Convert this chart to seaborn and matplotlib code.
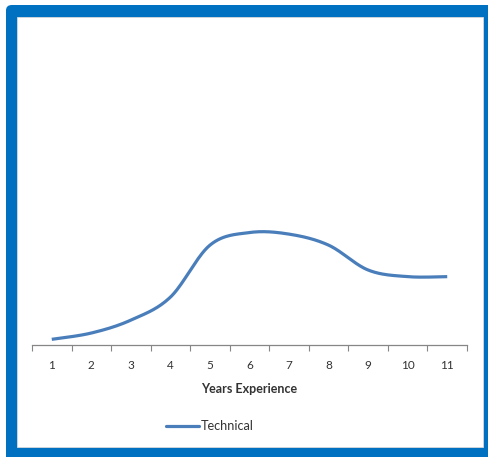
import numpy as np
import pandas as pd
import matplotlib
matplotlib.use("Agg")
import matplotlib.pyplot as plt
from matplotlib.patches import FancyBboxPatch, Rectangle
from matplotlib.lines import Line2D
import seaborn as sns

# Chart data
years = [1, 2, 3, 4, 5, 6, 7, 8, 9, 10, 11]
technical = [0.18, 0.38, 0.79, 1.52, 3.17, 3.57, 3.52, 3.17, 2.38, 2.17, 2.17]
series_name = "Technical"
x_title = "Years Experience"

sns.set_theme(style="white")
plt.rcParams["font.family"] = ["Lato", "DejaVu Sans"]

W, H = 488, 457
fig = plt.figure(figsize=(W / 100, H / 100), dpi=100)
fig.patch.set_facecolor("white")

# Blue frame around the chart area
blue = "#0070C0"
fig.patches.append(FancyBboxPatch((6 / W, -0.1), 1.2, (452 / H) + 0.1,
                                  boxstyle="round,pad=0,rounding_size=0.012",
                                  transform=fig.transFigure, facecolor=blue,
                                  edgecolor="none", zorder=0))
fig.patches.append(Rectangle((17 / W, 10.5 / H), (483 - 17) / W, (440.5 - 10.5) / H,
                             transform=fig.transFigure, facecolor="white",
                             edgecolor="#d9d9d9", linewidth=0.6, zorder=1))

ax = fig.add_axes([32 / W, 112 / H, (467 - 32) / W, (427 - 112) / H])
ax.set_facecolor("none")
ax.set_zorder(2)


def smooth(xv, yv, n=30):
    """Catmull-Rom style smoothing, like a spreadsheet's smoothed line."""
    xv = np.asarray(xv, float)
    yv = np.asarray(yv, float)
    px = np.concatenate([[xv[0]], xv, [xv[-1]]])
    py = np.concatenate([[yv[0]], yv, [yv[-1]]])
    out_x, out_y = [], []
    for i in range(1, len(px) - 2):
        p0 = np.array([px[i - 1], py[i - 1]])
        p1 = np.array([px[i], py[i]])
        p2 = np.array([px[i + 1], py[i + 1]])
        p3 = np.array([px[i + 2], py[i + 2]])
        c1 = p1 + (p2 - p0) / 6
        c2 = p2 - (p3 - p1) / 6
        t = np.linspace(0, 1, n, endpoint=(i == len(px) - 3))[:, None]
        pts = ((1 - t) ** 3) * p1 + 3 * ((1 - t) ** 2) * t * c1 + 3 * (1 - t) * t ** 2 * c2 + t ** 3 * p2
        out_x.extend(pts[:, 0])
        out_y.extend(pts[:, 1])
    return np.array(out_x), np.array(out_y)


line_color = "#4A7EBB"
sx, sy = smooth(years, technical)
curve = pd.DataFrame({"x": sx, "y": sy, "series": series_name})
sns.lineplot(data=curve, x="x", y="y", hue="series", palette=[line_color],
             sort=False, estimator=None, linewidth=2.3, ax=ax, legend=False,
             solid_capstyle="butt")

ax.set_xlim(0.5, 11.5)
ax.set_ylim(0, 10)
ax.set_yticks([])
for side in ["top", "right", "left"]:
    ax.spines[side].set_visible(False)
ax.spines["bottom"].set_color("#868686")
ax.spines["bottom"].set_linewidth(0.9)

text_color = "#333333"

# Tick marks between categories, labels centred on each category
ax.set_xticks(np.arange(0.5, 12, 1))
ax.set_xticklabels([])
ax.tick_params(axis="x", which="major", direction="out", length=4.3,
               width=0.8, color="#868686", bottom=True)
ax.set_xticks(years, minor=True)
ax.set_xticklabels([str(y) for y in years], minor=True)
ax.tick_params(axis="x", which="minor", length=0, pad=10.5, labelsize=8.5,
               labelcolor=text_color)

ax.set_xlabel(x_title, fontsize=9, fontweight="bold", color=text_color, labelpad=9)
ax.set_ylabel("")

handle = Line2D([], [], color=line_color, linewidth=2.3)
fig.legend([handle], [series_name], loc="center", bbox_to_anchor=(210 / W, 1 - 426 / H),
           frameon=False, fontsize=9.2, handlelength=2.6, handletextpad=0.15,
           labelcolor=text_color)

fig.savefig("out.png", dpi=100, facecolor="white")
